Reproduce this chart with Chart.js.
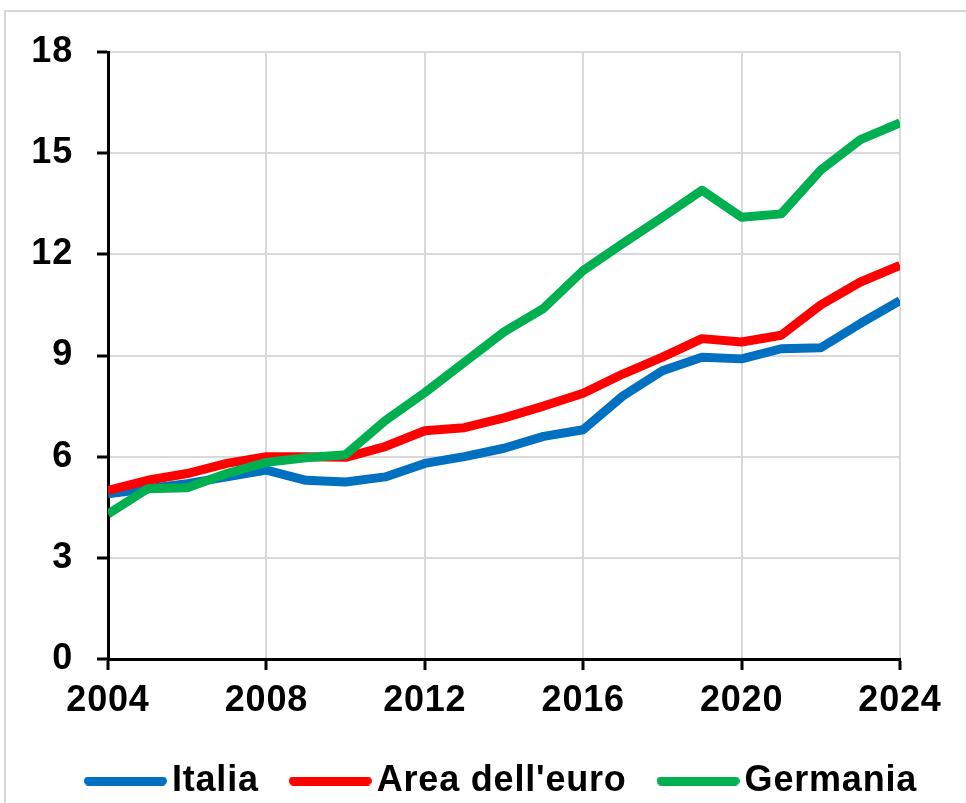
<!DOCTYPE html>
<html>
<head>
<meta charset="utf-8">
<script src="https://cdn.jsdelivr.net/npm/chart.js@4.4.1/dist/chart.umd.min.js"></script>
<style>
  html, body { margin: 0; padding: 0; background: #fff; overflow: hidden; width: 966px; height: 803px; }
  #frame { position: absolute; left: 4px; top: 10px; width: 2000px; height: 2000px;
           border-top: 2px solid #d6d6d6; border-left: 2px solid #d6d6d6; }
  #c { position: absolute; left: 0; top: 0; }
</style>
</head>
<body>
<div id="frame"></div>
<canvas id="c" width="1014" height="809" style="width:1014px;height:809px"></canvas>
<script>
const years = [2004,2005,2006,2007,2008,2009,2010,2011,2012,2013,2014,2015,2016,2017,2018,2019,2020,2021,2022,2023,2024];
const italia = [4.9,5.05,5.2,5.4,5.6,5.3,5.25,5.4,5.8,6.0,6.25,6.6,6.8,7.8,8.55,8.95,8.9,9.2,9.23,9.95,10.63];
const areaEuro = [5.0,5.3,5.5,5.8,6.0,6.0,5.98,6.3,6.77,6.86,7.15,7.5,7.88,8.45,8.95,9.5,9.4,9.6,10.5,11.18,11.67];
const germania = [4.3,5.05,5.08,5.5,5.83,5.97,6.06,7.07,7.9,8.8,9.7,10.4,11.52,12.32,13.1,13.9,13.1,13.2,14.5,15.4,15.9];
const seriesNames = ['Italia', "Area dell'euro", 'Germania'];
const seriesColors = ['#0070C0', '#FF0000', '#00B050'];
const yTicks = [0, 3, 6, 9, 12, 15, 18];
const xTicks = [2004, 2008, 2012, 2016, 2020, 2024];

const FONT = { family: "'Liberation Sans', Arial, sans-serif", size: 36, weight: 'bold' };
const GRID = '#d9d9d9';

function legendLine(color) {
  const cv = document.createElement('canvas');
  cv.width = 83; cv.height = 9;
  const g = cv.getContext('2d');
  g.fillStyle = color;
  g.beginPath();
  g.roundRect(0, 0, 83, 9, 4.5);
  g.fill();
  return cv;
}

const spacing = {
  id: 'spacing',
  beforeLayout: c => { c.ctx.letterSpacing = '0.8px'; },
  beforeDraw: c => { c.ctx.letterSpacing = '0.8px'; }
};

const seriesValues = [italia, areaEuro, germania];
const datasets = seriesValues.map((vals, i) => ({
  label: seriesNames[i],
  data: vals.map((v, j) => ({ x: years[j], y: v })),
  borderColor: seriesColors[i],
  backgroundColor: seriesColors[i],
  borderWidth: 9,
  borderJoinStyle: 'round',
  borderCapStyle: 'butt',
  pointRadius: 0,
  pointHoverRadius: 0,
  pointStyle: legendLine(seriesColors[i]),
  tension: 0,
  fill: false,
  order: 3 - i
}));

new Chart(document.getElementById('c'), {
  type: 'line',
  data: { datasets },
  plugins: [spacing],
  options: {
    responsive: false,
    animation: false,
    devicePixelRatio: 1,
    layout: { padding: 0 },
    plugins: {
      tooltip: { enabled: false },
      legend: {
        position: 'bottom',
        labels: {
          usePointStyle: true,
          pointStyleWidth: 57,
          padding: 43,
          color: '#000',
          font: FONT,
          sort: (a, b) => a.datasetIndex - b.datasetIndex
        }
      }
    },
    scales: {
      x: {
        type: 'linear',
        min: 2004,
        max: 2024,
        afterBuildTicks: s => { s.ticks = xTicks.map(v => ({ value: v })); },
        afterFit: s => { s.height = 61; s.paddingLeft = 0; s.paddingRight = 114; },
        ticks: { color: '#000', font: FONT, padding: 9, maxRotation: 0, autoSkip: false,
                 callback: v => String(v) },
        grid: {
          color: c => (c.tick && c.tick.value === 2004) ? 'rgba(0,0,0,0)' : GRID,
          lineWidth: 2,
          tickColor: '#000',
          tickWidth: 3,
          tickLength: 11,
          drawTicks: true
        },
        border: { display: true, color: '#000', width: 3 }
      },
      y: {
        min: 0,
        max: 18,
        afterBuildTicks: s => { s.ticks = yTicks.map(v => ({ value: v })); },
        afterFit: s => { s.width = 108; s.paddingTop = 52; s.paddingBottom = 0; },
        ticks: { color: '#000', font: FONT, padding: 24, callback: v => String(v) },
        grid: {
          color: c => (c.tick && c.tick.value === 0) ? 'rgba(0,0,0,0)' : GRID,
          lineWidth: 2,
          tickColor: '#000',
          tickWidth: 3,
          tickLength: 11
        },
        border: { display: true, color: '#000', width: 3 }
      }
    }
  }
});
</script>
</body>
</html>
